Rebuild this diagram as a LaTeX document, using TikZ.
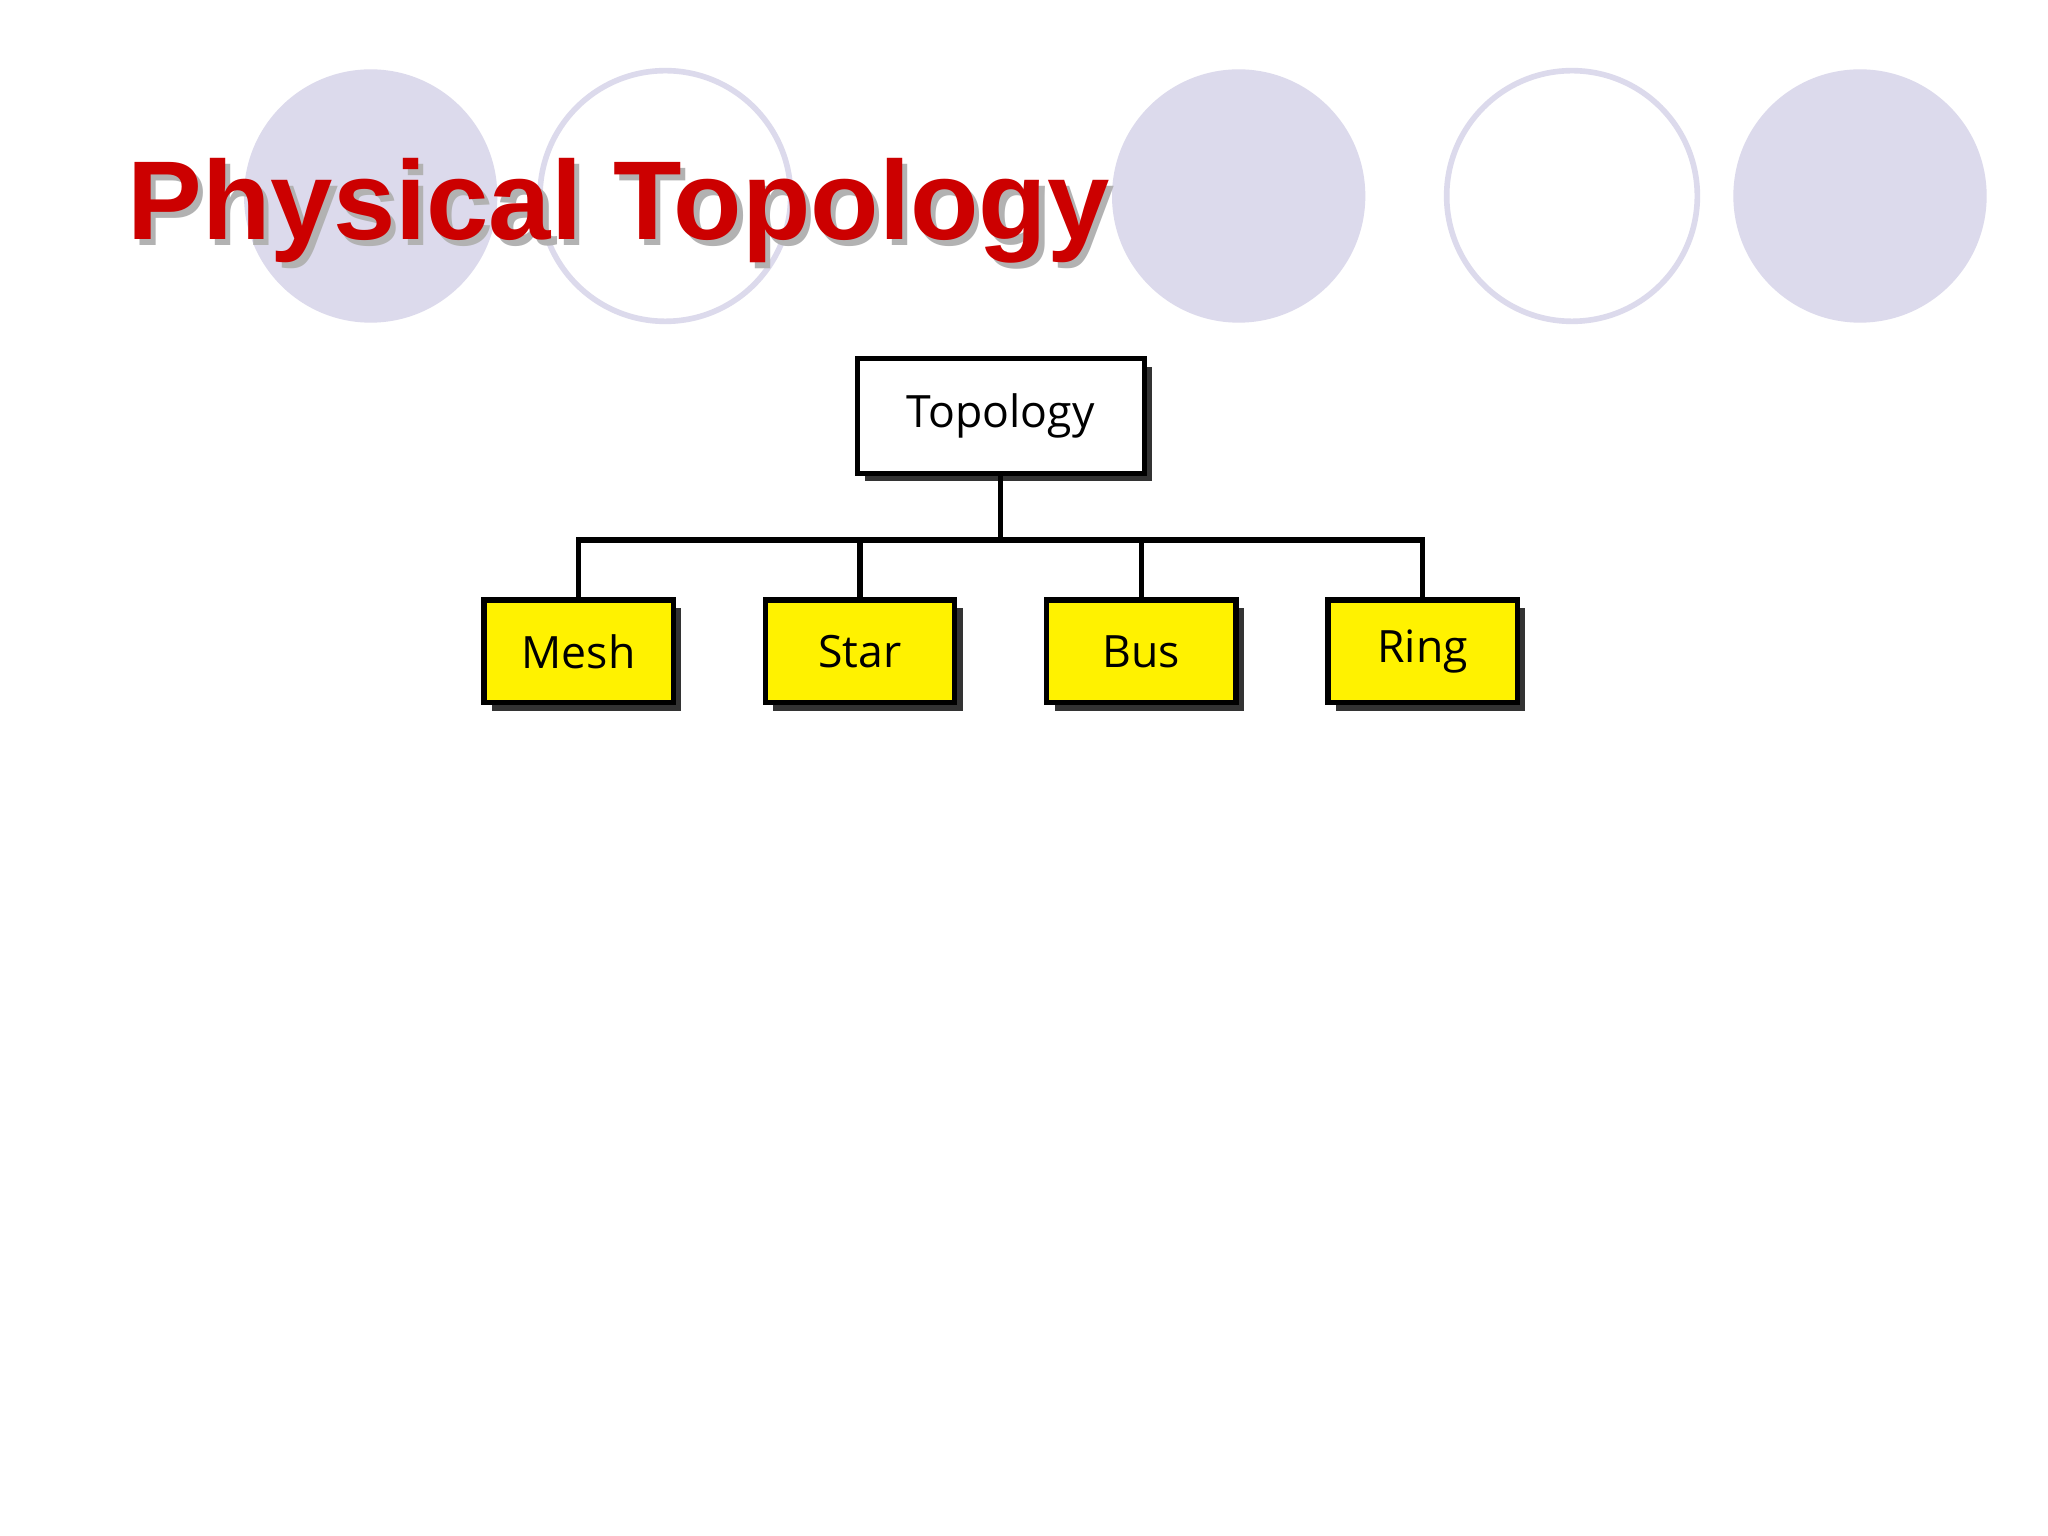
\documentclass[tikz,border=0pt]{standalone}
\usepackage{fontspec}
\setmainfont{Liberation Sans}
\newfontfamily\boxfont{Open Sans}
\usetikzlibrary{shadows}
\definecolor{lav}{HTML}{DCDAEC}
\definecolor{tred}{HTML}{CC0000}
\begin{document}
\begin{tikzpicture}[x=0.01cm,y=-0.01cm,
  tbox/.style={draw=black,line width=1.1pt,minimum width=4.0cm,minimum height=2.2cm,inner sep=0pt,
    font=\boxfont\fontsize{9.5}{11}\selectfont,
    drop shadow={shadow xshift=0.06cm,shadow yshift=-0.06cm,fill=black!80,opacity=1}},
  kid/.style={tbox,fill=yellow,minimum width=1.42cm,minimum height=0.77cm},
  conn/.style={line width=1.1pt}]
\useasboundingbox (0,0) rectangle (1536,1152);
\fill[white] (0,0) rectangle (1536,1152);
\fill[lav] (278,147) circle (95);
\draw[lav,line width=1.2pt] (499,147) circle (94);
\fill[lav] (929,147) circle (95);
\draw[lav,line width=1.2pt] (1179,147) circle (94);
\fill[lav] (1395,147) circle (95);
\node[anchor=base west,text=black!30,font=\bfseries\fontsize{23.9}{28}\selectfont,inner sep=0] at (99,184) {Physical Topology};
\node[anchor=base west,text=tred,font=\bfseries\fontsize{23.9}{28}\selectfont,inner sep=0] (title) at (95,180) {Physical Topology};
\node[tbox,fill=white,minimum width=2.15cm,minimum height=0.86cm] (top) at (750.5,312) {Topology};
\node[kid] (mesh) at (434,488.5) {Mesh};
\node[kid] (star) at (645,488.5) {Star};
\node[kid] (bus) at (856,488.5) {Bus};
\node[kid] (ring) at (1067,488.5) {Ring};
\coordinate (j) at (750.5,405);
\draw[conn] (top.south) -- (j);
\draw[conn] (mesh.north) |- (j) -| (ring.north);
\draw[conn] (star.north) -- (star.north |- j);
\draw[conn] (bus.north) -- (bus.north |- j);
\end{tikzpicture}
\end{document}
